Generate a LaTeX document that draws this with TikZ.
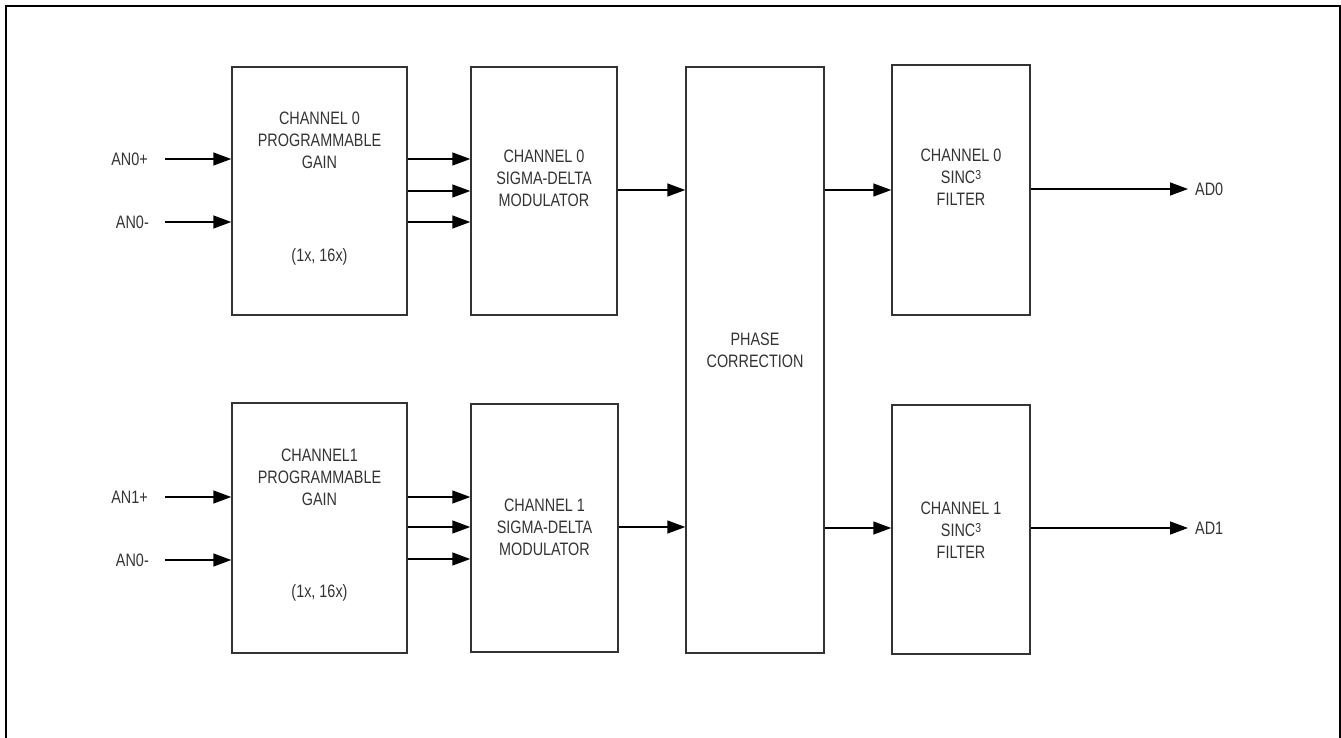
\documentclass[tikz,border=0pt]{standalone}
\usepackage{fontspec}
\setmainfont{Liberation Sans}[FakeStretch=0.8]
\usetikzlibrary{arrows.meta,calc}
\definecolor{ink}{HTML}{333333}
\newcommand{\cubesup}{\raisebox{3.8pt}{\fontsize{13}{13}\selectfont 3}}
\tikzset{
  blk/.style={draw=ink,line width=1.5pt,rectangle,inner sep=0pt,minimum width=#1},
  txt/.style={text=ink,font=\fontsize{18}{22}\selectfont,align=center,inner sep=0pt},
  lbl/.style={text=ink,font=\fontsize{18}{22}\selectfont,inner sep=0pt},
  arr/.style={draw=black,line width=1.5pt,-{Triangle[length=18pt,width=13pt]}},
  frame/.style={draw=black,line width=2.2pt}
}
\begin{document}
\begin{tikzpicture}[x=1pt,y=-1pt]
\useasboundingbox (0,0) rectangle (1341,738);
\draw[frame] (6,740) -- (6,6) -- (1340,6) -- (1340,740);

% blocks
\node[blk=175pt,minimum height=248pt] (gain0) at (319.5,191) {};
\node[blk=146pt,minimum height=248pt] (mod0) at (544,191) {};
\node[blk=138pt,minimum height=586pt] (phase) at (755,360) {};
\node[blk=138pt,minimum height=250pt] (filt0) at (961,190) {};
\node[blk=175pt,minimum height=250pt] (gain1) at (319.5,528) {};
\node[blk=147pt,minimum height=248pt] (mod1) at (544.5,528) {};
\node[blk=138pt,minimum height=249pt] (filt1) at (961,529.5) {};

% block texts
\node[txt] (tg0) at (319.5,140) {CHANNEL 0\\PROGRAMMABLE\\GAIN};
\node[txt] (tg0b) at (319.5,257) {(1x, 16x)};
\node[txt] (tm0) at (544,178) {CHANNEL 0\\SIGMA-DELTA\\MODULATOR};
\node[txt] (tp) at (755,350) {PHASE\\CORRECTION};
\node[txt] (tf0) at (961,177) {CHANNEL 0\\SINC\cubesup\\FILTER};
\node[txt] (tg1) at (319.5,477) {CHANNEL1\\PROGRAMMABLE\\GAIN};
\node[txt] (tg1b) at (319.5,593) {(1x, 16x)};
\node[txt] (tm1) at (544.5,527) {CHANNEL 1\\SIGMA-DELTA\\MODULATOR};
\node[txt] (tf1) at (961,530) {CHANNEL 1\\SINC\cubesup\\FILTER};

% input labels
\node[lbl,anchor=east] (an0p) at (148,159) {AN0+};
\node[lbl,anchor=east] (an0m) at (149,222) {AN0-};
\node[lbl,anchor=east] (an1p) at (148,497) {AN1+};
\node[lbl,anchor=east] (an1m) at (149,560) {AN0-};
% output labels
\node[lbl,anchor=west] (ad0) at (1195,189) {AD0};
\node[lbl,anchor=west] (ad1) at (1195,528) {AD1};

% inputs
\draw[arr] ([xshift=17pt]an0p.east) -- (gain0.west |- an0p.east);
\draw[arr] ([xshift=16pt]an0m.east) -- (gain0.west |- an0m.east);
\draw[arr] ([xshift=17pt]an1p.east) -- (gain1.west |- an1p.east);
\draw[arr] ([xshift=16pt]an1m.east) -- (gain1.west |- an1m.east);

% gain to modulator
\coordinate (g0a) at ([yshift=32pt]gain0.east);
\coordinate (g0b) at (gain0.east);
\coordinate (g0c) at ([yshift=-31pt]gain0.east);
\draw[arr] (g0a) -- (g0a -| mod0.west);
\draw[arr] (g0b) -- (g0b -| mod0.west);
\draw[arr] (g0c) -- (g0c -| mod0.west);
\coordinate (g1a) at ([yshift=31pt]gain1.east);
\coordinate (g1b) at ([yshift=1pt]gain1.east);
\coordinate (g1c) at ([yshift=-31pt]gain1.east);
\draw[arr] (g1a) -- (g1a -| mod1.west);
\draw[arr] (g1b) -- (g1b -| mod1.west);
\draw[arr] (g1c) -- (g1c -| mod1.west);

% modulator to phase
\coordinate (m0) at ([yshift=1pt]mod0.east);
\draw[arr] (m0) -- (m0 -| phase.west);
\coordinate (m1) at ([yshift=1pt]mod1.east);
\draw[arr] (m1) -- (m1 -| phase.west);

% phase to filter
\coordinate (p0) at (phase.east |- filt0.west);
\draw[arr] (p0) -- (filt0.west);
\coordinate (p1) at (phase.east |- ad1.west);
\draw[arr] (p1) -- (p1 -| filt1.west);

% outputs
\draw[arr] (filt0.east |- ad0.west) -- ([xshift=-7pt]ad0.west);
\draw[arr] (filt1.east |- ad1.west) -- ([xshift=-7pt]ad1.west);
\end{tikzpicture}
\end{document}
